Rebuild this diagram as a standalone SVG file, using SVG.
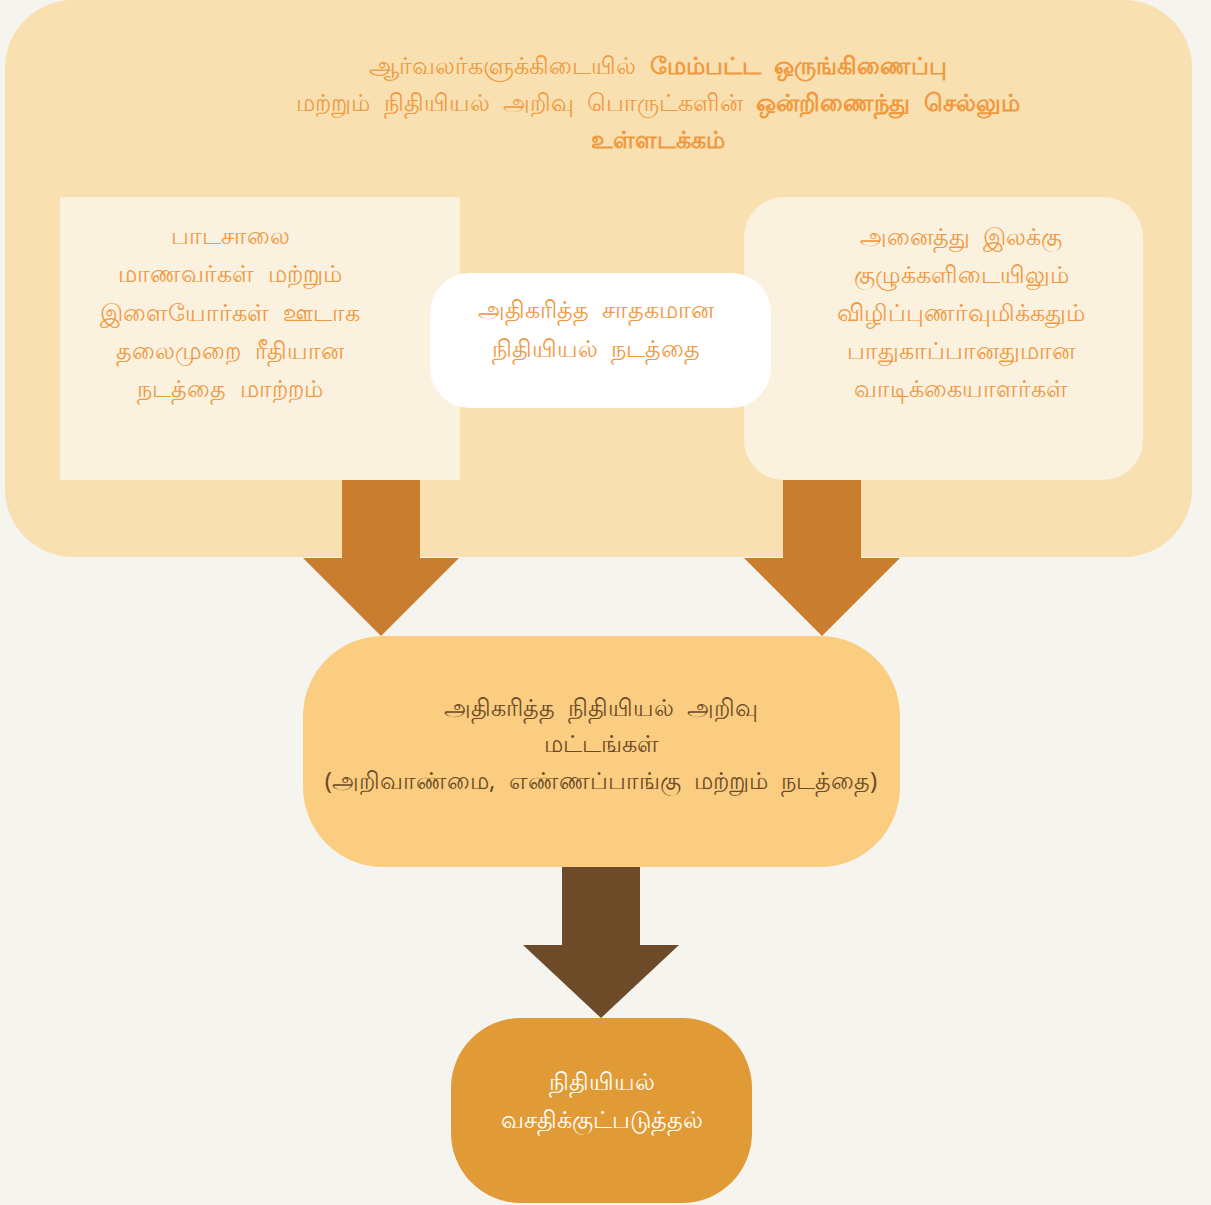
<svg xmlns="http://www.w3.org/2000/svg" width="1211" height="1205" viewBox="0 0 1211 1205">
<style>
.t{font-family:"Noto Sans","DejaVu Sans",sans-serif;font-size:24px;text-anchor:middle;word-spacing:7px}
.o{fill:#F0993F}
.b{font-weight:bold}
.br{fill:#6D4A28}
.w{fill:#FFFFFF}
</style>
<rect width="1211" height="1205" fill="#F6F4EE"/>
<g id="container">
<rect x="5" y="0" width="1187" height="557" rx="68" fill="#F9E0B0"/>
<text class="t o" x="658" y="74">ஆர்வலர்களுக்கிடையில் <tspan class="b">மேம்பட்ட ஒருங்கிணைப்பு</tspan></text>
<text class="t o" x="658" y="111">மற்றும் நிதியியல் அறிவு பொருட்களின் <tspan class="b">ஒன்றிணைந்து செல்லும்</tspan></text>
<text class="t o b" x="658" y="148">உள்ளடக்கம்</text>
</g>
<g id="left">
<rect x="60" y="197" width="400" height="283" fill="#FAF1DF"/>
<text class="t o" x="230" y="244">பாடசாலை</text>
<text class="t o" x="230" y="282">மாணவர்கள் மற்றும்</text>
<text class="t o" x="230" y="321">இளையோர்கள் ஊடாக</text>
<text class="t o" x="230" y="359">தலைமுறை ரீதியான</text>
<text class="t o" x="230" y="397">நடத்தை மாற்றம்</text>
</g>
<g id="right">
<rect x="744" y="197" width="399" height="283" rx="40" fill="#FAF1DF"/>
<text class="t o" x="961" y="245">அனைத்து இலக்கு</text>
<text class="t o" x="961" y="283">குழுக்களிடையிலும்</text>
<text class="t o" x="961" y="321">விழிப்புணர்வுமிக்கதும்</text>
<text class="t o" x="961" y="359">பாதுகாப்பானதுமான</text>
<text class="t o" x="961" y="397">வாடிக்கையாளர்கள்</text>
</g>
<g id="center">
<rect x="430" y="273" width="341" height="135" rx="40" fill="#FFFFFF"/>
<text class="t o" x="596" y="318">அதிகரித்த சாதகமான</text>
<text class="t o" x="596" y="357">நிதியியல் நடத்தை</text>
</g>
<g id="connectors">
<polygon points="342,480 420,480 420,558 459,558 381,636 303,558 342,558" fill="#C97D2E"/>
<polygon points="783,480 861,480 861,558 900,558 822,636 744,558 783,558" fill="#C97D2E"/>
<polygon points="562,867 640,867 640,945 679,945 601,1018 523,945 562,945" fill="#6D4A28"/>
</g>
<g id="literacy">
<rect x="303" y="636" width="597" height="231" rx="80" fill="#FBCD80"/>
<text class="t br" x="601" y="716">அதிகரித்த நிதியியல் அறிவு</text>
<text class="t br" x="601" y="752">மட்டங்கள்</text>
<text class="t br" x="601" y="789">(அறிவாண்மை, எண்ணப்பாங்கு மற்றும் நடத்தை)</text>
</g>
<g id="inclusion">
<rect x="451" y="1018" width="301" height="185" rx="70" fill="#E19B36"/>
<text class="t w" x="602" y="1090">நிதியியல்</text>
<text class="t w" x="602" y="1128">வசதிக்குட்படுத்தல்</text>
</g>
</svg>
